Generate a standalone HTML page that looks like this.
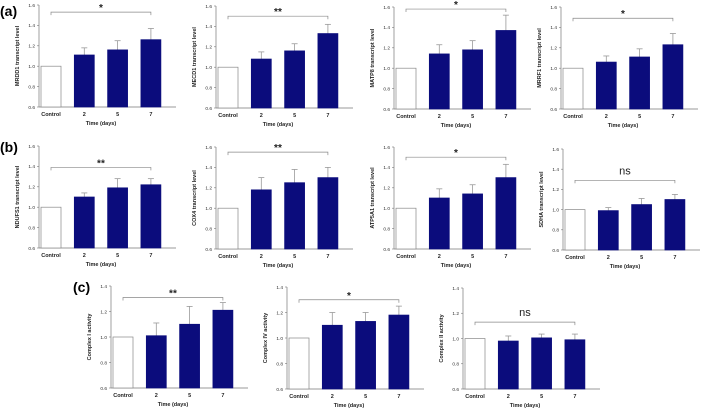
<!DOCTYPE html>
<html><head><meta charset="utf-8"><style>
html,body{margin:0;padding:0;background:#fff;width:709px;height:410px;overflow:hidden}
svg{display:block;font-family:"Liberation Sans",Arial,sans-serif}
</style></head><body>
<svg id="fig" width="709" height="410" viewBox="0 0 709 410">
<text x="0" y="16" font-size="14" font-weight="bold">(a)</text>
<text x="0" y="152" font-size="14" font-weight="bold">(b)</text>
<text x="73" y="292" font-size="14" font-weight="bold">(c)</text>
</svg>
<script>
const categories = ["Control","2","5","7"];
const panelTitles = ["MRDD1 transcript level","MECD1 transcript level","MATP8 transcript level","MRRF1 transcript level",
  "NDUFS1 transcript level","COX4 transcript level","ATP5A1 transcript level","SDHA transcript level",
  "Complex I activity","Complex IV activity","Complex II activity"];
const meanValues = [
  [1.0,1.11,1.16,1.26],[1.0,1.08,1.16,1.33],[1.0,1.14,1.18,1.37],[1.0,1.06,1.11,1.23],
  [1.0,1.10,1.19,1.22],[1.0,1.18,1.25,1.30],[1.0,1.10,1.14,1.30],[1.0,0.99,1.05,1.10],
  [1.0,1.01,1.10,1.21],[1.0,1.10,1.13,1.18],[1.0,0.98,1.005,0.99]];
const errorValues = [
  [0,0.07,0.09,0.11],[0,0.07,0.07,0.09],[0,0.09,0.09,0.15],[0,0.06,0.08,0.11],
  [0,0.04,0.09,0.06],[0,0.12,0.13,0.10],[0,0.09,0.09,0.13],[0,0.03,0.06,0.05],
  [0,0.10,0.14,0.06],[0,0.10,0.07,0.07],[0,0.04,0.03,0.045]];
const sigLabels = ["*","**","*","*","**","**","*","ns","**","*","ns"];
const bracketValues = [1.53,1.5,1.58,1.49,1.39,1.55,1.5,1.29,1.31,1.3,1.13];
const ticksAB = [0.6,0.8,1.0,1.2,1.4,1.6];
const ticksC = [0.6,0.8,1.0,1.2,1.4];
// layout (not data)
const layout = [
  [39,5,107],[216,6,108],[394,7,109],[561,7,109],
  [39,146,248],[216,147,249],[394,147,249],[563,149,250],
  [111,286,388],[287,287,389],[463,288,389]];
const NS="http://www.w3.org/2000/svg";
const svg=document.getElementById('fig');
function mk(tag,attrs,parent){const e=document.createElementNS(NS,tag);for(const k in attrs)e.setAttribute(k,attrs[k]);(parent||svg).appendChild(e);return e;}
layout.forEach((L,p)=>{
  const [x0,yTop,yBot]=L;
  const ticks = p>=8?ticksC:ticksAB;
  const vmin=ticks[0], vmax=ticks[ticks.length-1];
  const y=v=>yBot-(v-vmin)/(vmax-vmin)*(yBot-yTop);
  const xb=i=>x0+2+i*33.3;
  const g=mk('g',{});
  
  
  const ya=mk('line',{x1:x0,y1:yTop,x2:x0,y2:yBot,stroke:'#777','stroke-width':0.7},g);
  
  
  const xa=mk('line',{x1:x0,y1:yBot,x2:x0+137,y2:yBot,stroke:'#777','stroke-width':0.7},g);
  
  
  ticks.forEach(t=>{
    mk('line',{x1:x0-2,y1:y(t),x2:x0,y2:y(t),stroke:'#777','stroke-width':0.6},g);
    const tl=mk('text',{x:x0-4,y:y(t)+1.8,'font-size':4.8,'text-anchor':'end',fill:'#333'},g);
    tl.textContent=t.toFixed(1);
    
    
  });
  const yt=mk('text',{x:0,y:0,'font-size':5.5,'text-anchor':'middle',fill:'#222','font-weight':'bold',transform:`translate(${x0-20},${(yTop+yBot)/2}) rotate(-90)`},g);
  yt.textContent=panelTitles[p];
  
  
  categories.forEach((c,i)=>{
    const m=meanValues[p][i], e=errorValues[p][i];
    const bx=xb(i);
    if(e>0){
      mk('line',{x1:bx+10,y1:y(m),x2:bx+10,y2:y(m+e),stroke:'#999','stroke-width':0.8},g);
      mk('line',{x1:bx+7,y1:y(m+e),x2:bx+13,y2:y(m+e),stroke:'#999','stroke-width':0.8},g);
    }
    const r=mk('rect',{x:bx,y:y(m),width:20,height:yBot-y(m),fill:i==0?'#fff':'#0b0c7c',stroke:i==0?'#888':'#0b0c7c','stroke-width':0.7},g);
    
    
    const cl=mk('text',{x:bx+10,y:yBot+9,'font-size':5.5,'text-anchor':'middle',fill:'#222','font-weight':'bold'},g);
    cl.textContent=c;
    
    
  });
  const xt=mk('text',{x:xb(1.5)+10,y:yBot+18,'font-size':5.5,'text-anchor':'middle',fill:'#222','font-weight':'bold'},g);
  xt.textContent='Time (days)';
  
  
  const by=y(bracketValues[p]);
  const br=mk('path',{d:`M${xb(0)+10},${by+3}V${by}H${xb(3)+10}V${by+3}`,fill:'none',stroke:'#888','stroke-width':0.7},g);
  
  
  const isNs=sigLabels[p]==='ns';
  const st=mk('text',{x:(xb(0)+xb(3))/2+10,y:isNs?by-6:by-1,'font-size':isNs?11:10,'text-anchor':'middle',fill:'#222','font-weight':isNs?'normal':'bold'},g);
  st.textContent=sigLabels[p];
  
  
});
</script>
</body></html>
